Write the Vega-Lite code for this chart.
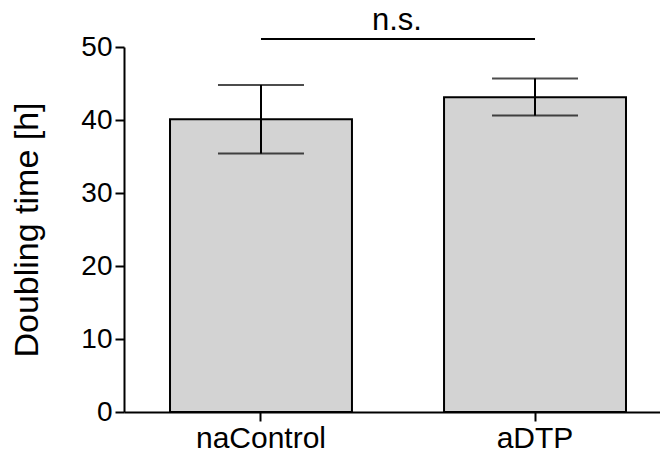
{
  "$schema": "https://vega.github.io/schema/vega-lite/v6.json",
  "autosize": "none",
  "padding": {"left": 124, "top": 47, "right": 0, "bottom": 43},
  "width": 536,
  "height": 365,
  "background": "white",
  "config": {
    "font": "Liberation Sans",
    "view": {"stroke": null}
  },
  "title": {"text": "n.s.", "fontSize": 31, "fontWeight": "normal", "font": "Liberation Sans", "color": "black", "offset": -4, "anchor": "middle", "frame": "group", "dx": 5},
  "datasets": {
    "bars": [
      {"group": "naControl", "mean": 40.1, "lo": 35.4, "hi": 44.8},
      {"group": "aDTP", "mean": 43.1, "lo": 40.6, "hi": 45.7}
    ],
    "sig": [
      {"from": "naControl", "to": "aDTP", "y": 51.1}
    ]
  },
  "layer": [
    {
      "data": {"name": "bars"},
      "mark": {"type": "bar", "fill": "#d3d3d3", "stroke": "black", "strokeWidth": 2},
      "encoding": {
        "x": {
          "field": "group", "type": "nominal",
          "scale": {"domain": ["naControl", "aDTP"], "paddingInner": 0.336, "paddingOuter": 0.146, "align": 0.575},
          "axis": {"title": null, "labelAngle": 0, "labelFontSize": 30, "labelColor": "black", "domainColor": "black", "domainWidth": 2, "tickColor": "black", "tickWidth": 2, "tickSize": 9, "labelPadding": 2}
        },
        "y": {
          "field": "mean", "type": "quantitative",
          "scale": {"domain": [0, 50], "nice": false},
          "axis": {"title": "Doubling time [h]", "titleFontSize": 34, "titleFontWeight": "normal", "titleColor": "black", "titlePadding": 36, "values": [0, 10, 20, 30, 40, 50], "grid": false, "labelFontSize": 28, "labelColor": "black", "domainColor": "black", "domainWidth": 2, "tickColor": "black", "tickWidth": 2, "tickSize": 9, "labelPadding": 3}
        }
      }
    },
    {
      "data": {"name": "bars"},
      "mark": {"type": "rule", "color": "black", "strokeWidth": 2},
      "encoding": {
        "x": {"field": "group", "type": "nominal"},
        "y": {"field": "lo", "type": "quantitative"},
        "y2": {"field": "hi"}
      }
    },
    {
      "data": {"name": "bars"},
      "mark": {"type": "tick", "color": "black", "thickness": 2, "size": 86},
      "encoding": {
        "x": {"field": "group", "type": "nominal"},
        "y": {"field": "lo", "type": "quantitative"}
      }
    },
    {
      "data": {"name": "bars"},
      "mark": {"type": "tick", "color": "black", "thickness": 2, "size": 86},
      "encoding": {
        "x": {"field": "group", "type": "nominal"},
        "y": {"field": "hi", "type": "quantitative"}
      }
    },
    {
      "data": {"name": "sig"},
      "mark": {"type": "rule", "color": "black", "strokeWidth": 2},
      "encoding": {
        "x": {"field": "from", "type": "nominal", "bandPosition": 0.5},
        "x2": {"field": "to", "bandPosition": 0.5},
        "y": {"field": "y", "type": "quantitative"}
      }
    }
  ]
}
